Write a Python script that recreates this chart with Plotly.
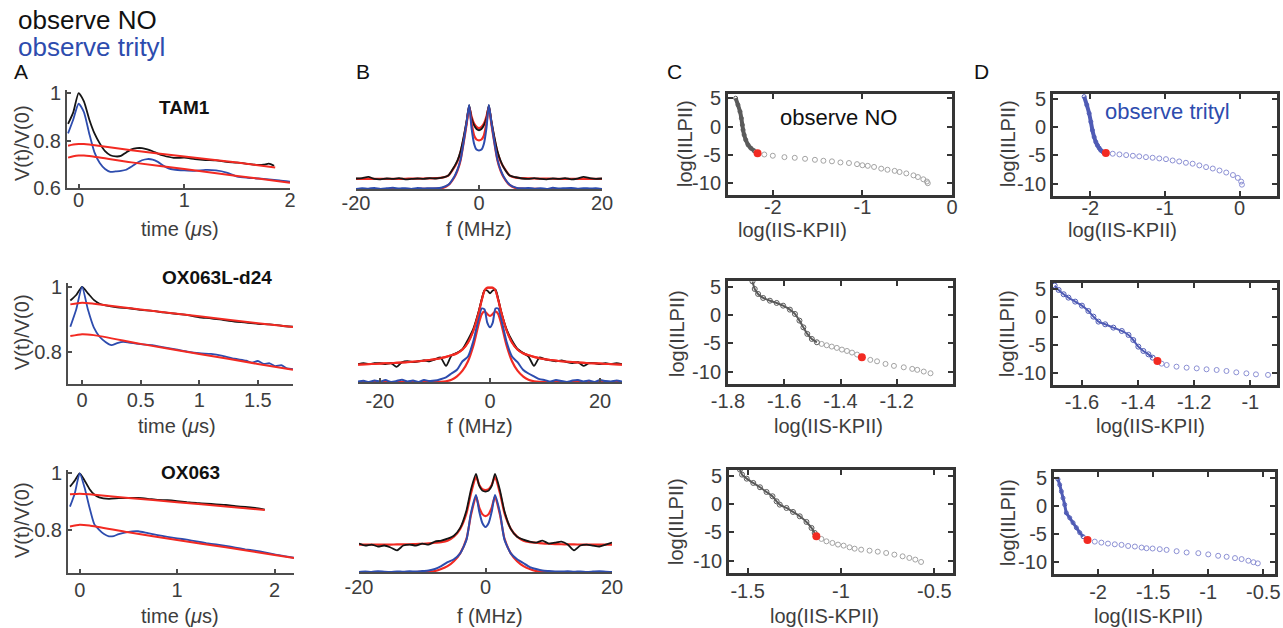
import plotly.graph_objects as go

# ---------------- data ----------------
# Panel A: dipolar time traces (time in us, V(t)/V(0))
tA1_k = [-0.1, -0.05, 0.0, 0.05, 0.1, 0.15, 0.2, 0.25, 0.3, 0.35, 0.4, 0.45, 0.5, 0.55, 0.6, 0.65, 0.7, 0.75, 0.8, 0.9, 1.0, 1.1, 1.2, 1.3, 1.4, 1.5, 1.6, 1.7, 1.75, 1.8, 1.85]
vA1_k = [0.87, 0.92, 1.0, 0.965, 0.89, 0.83, 0.788, 0.755, 0.738, 0.733, 0.735, 0.75, 0.763, 0.768, 0.768, 0.763, 0.755, 0.745, 0.737, 0.727, 0.728, 0.722, 0.718, 0.716, 0.71, 0.707, 0.702, 0.697, 0.698, 0.703, 0.694]
tA1_b = [-0.1, -0.05, 0.0, 0.05, 0.1, 0.15, 0.2, 0.25, 0.3, 0.35, 0.4, 0.45, 0.5, 0.55, 0.6, 0.65, 0.7, 0.75, 0.8, 0.85, 0.9, 1.0, 1.1, 1.2, 1.3, 1.4, 1.5, 1.6, 1.7, 1.8, 1.9, 2.0]
vA1_b = [0.83, 0.89, 0.955, 0.92, 0.83, 0.75, 0.705, 0.68, 0.668, 0.67, 0.672, 0.677, 0.69, 0.705, 0.717, 0.722, 0.72, 0.71, 0.695, 0.683, 0.678, 0.674, 0.672, 0.676, 0.674, 0.665, 0.648, 0.643, 0.64, 0.636, 0.632, 0.627]
tA1_fk = [-0.1, -0.05, 0.0, 0.05, 0.1, 0.5, 1.0, 1.5, 1.86]
vA1_fk = [0.778, 0.783, 0.785, 0.785, 0.783, 0.759, 0.733, 0.707, 0.686]
tA1_fb = [-0.1, -0.05, 0.0, 0.05, 0.1, 0.5, 1.0, 1.5, 2.0]
vA1_fb = [0.728, 0.734, 0.737, 0.737, 0.735, 0.708, 0.68, 0.651, 0.622]

tA2_k = [-0.1, -0.05, 0.0, 0.05, 0.1, 0.15, 0.2, 0.3, 0.4, 0.5, 0.6, 0.7, 0.8, 0.9, 1.0, 1.1, 1.2, 1.3, 1.4, 1.5, 1.6, 1.7, 1.8]
vA2_k = [0.958, 0.975, 1.0, 0.98, 0.96, 0.948, 0.943, 0.937, 0.934, 0.929, 0.926, 0.921, 0.917, 0.913, 0.906, 0.903, 0.898, 0.893, 0.89, 0.886, 0.884, 0.88, 0.877]
tA2_b = [-0.1, -0.05, 0.0, 0.05, 0.1, 0.15, 0.2, 0.25, 0.3, 0.35, 0.4, 0.5, 0.6, 0.7, 0.8, 0.9, 1.0, 1.1, 1.2, 1.3, 1.4, 1.45, 1.5, 1.55, 1.6, 1.65, 1.7, 1.75, 1.8]
vA2_b = [0.877, 0.93, 1.0, 0.93, 0.875, 0.846, 0.83, 0.82, 0.826, 0.83, 0.828, 0.823, 0.82, 0.813, 0.807, 0.8, 0.795, 0.793, 0.787, 0.778, 0.772, 0.766, 0.771, 0.762, 0.764, 0.755, 0.758, 0.748, 0.746]
tA2_fk = [-0.1, 0.0, 0.1, 0.5, 1.0, 1.5, 1.8]
vA2_fk = [0.946, 0.951, 0.948, 0.93, 0.909, 0.888, 0.876]
tA2_fb = [-0.1, 0.0, 0.1, 0.5, 1.0, 1.5, 1.8]
vA2_fb = [0.848, 0.854, 0.851, 0.824, 0.793, 0.762, 0.744]

tA3_k = [-0.1, -0.05, 0.0, 0.05, 0.1, 0.15, 0.2, 0.3, 0.4, 0.5, 0.6, 0.7, 0.8, 0.9, 1.0, 1.1, 1.2, 1.3, 1.4, 1.5, 1.6, 1.7, 1.8, 1.9]
vA3_k = [0.953, 0.975, 1.0, 0.975, 0.945, 0.925, 0.915, 0.91, 0.912, 0.913, 0.913, 0.91, 0.906, 0.905, 0.902, 0.898, 0.895, 0.893, 0.89, 0.888, 0.884, 0.881, 0.878, 0.872]
tA3_b = [-0.1, -0.05, 0.0, 0.05, 0.1, 0.15, 0.2, 0.25, 0.3, 0.35, 0.4, 0.5, 0.6, 0.7, 0.8, 0.9, 1.0, 1.1, 1.2, 1.3, 1.4, 1.5, 1.6, 1.7, 1.8, 1.9, 2.0, 2.1, 2.2]
vA3_b = [0.882, 0.93, 1.0, 0.95, 0.88, 0.82, 0.8, 0.785, 0.777, 0.778, 0.785, 0.793, 0.795, 0.788, 0.781, 0.775, 0.77, 0.765, 0.759, 0.753, 0.748, 0.743, 0.737, 0.731, 0.726, 0.72, 0.713, 0.707, 0.701]
tA3_fk = [-0.1, 0.0, 0.1, 0.5, 1.0, 1.5, 1.9]
vA3_fk = [0.926, 0.928, 0.926, 0.913, 0.898, 0.883, 0.87]
tA3_fb = [-0.1, 0.0, 0.1, 0.5, 1.0, 1.5, 2.0, 2.2]
vA3_fb = [0.812, 0.818, 0.815, 0.791, 0.764, 0.738, 0.711, 0.70]

# Panel B: spectra (f in MHz, normalised amplitude)
fB1 = [-20, -19, -18, -17, -16, -15, -14, -13, -12, -11, -10, -9, -8, -7, -6,
       -5, -4, -3.5, -3, -2.5, -2, -1.6, -1.2, -0.8, -0.4, 0, 0.4, 0.8, 1.2, 1.6, 2, 2.5, 3, 3.5, 4, 5,
       6, 7, 8, 9, 10, 11, 12, 13, 14, 15, 16, 17, 18, 19, 20]
kB1 = [0.125, 0.13, 0.145, 0.12, 0.115, 0.125, 0.12, 0.13, 0.115, 0.12, 0.125, 0.12, 0.13, 0.125, 0.135,
       0.16, 0.27, 0.34, 0.45, 0.62, 0.82, 1.0, 0.84, 0.76, 0.715, 0.70, 0.715, 0.76, 0.84, 1.0, 0.82, 0.62, 0.45, 0.34, 0.26, 0.16,
       0.14, 0.125, 0.12, 0.13, 0.12, 0.115, 0.125, 0.12, 0.13, 0.115, 0.125, 0.145, 0.13, 0.12, 0.125]
fitkB1 = [0.12, 0.12, 0.12, 0.12, 0.12, 0.12, 0.12, 0.121, 0.122, 0.123, 0.124, 0.125, 0.127, 0.13, 0.135,
          0.16, 0.26, 0.33, 0.44, 0.6, 0.8, 0.98, 0.86, 0.78, 0.74, 0.725, 0.74, 0.78, 0.86, 0.98, 0.8, 0.6, 0.44, 0.33, 0.26, 0.16,
          0.135, 0.13, 0.127, 0.125, 0.124, 0.123, 0.122, 0.121, 0.12, 0.12, 0.12, 0.12, 0.12, 0.12, 0.12]
bB1 = [0.0, 0.01, 0.004, 0.012, 0.0, 0.008, 0.015, 0.005, 0.01, 0.0, 0.012, 0.006, 0.01, 0.008, 0.018,
       0.05, 0.15, 0.23, 0.35, 0.56, 0.8, 1.0, 0.72, 0.54, 0.47, 0.46, 0.47, 0.54, 0.72, 1.0, 0.8, 0.56, 0.35, 0.23, 0.15, 0.05,
       0.016, 0.008, 0.012, 0.004, 0.01, 0.0, 0.014, 0.006, 0.01, 0.012, 0.004, 0.01, 0.006, 0.008, 0.0]
fitbB1 = [0.0, 0.0, 0.0, 0.0, 0.0, 0.0, 0.0, 0.0, 0.0, 0.0, 0.0, 0.001, 0.002, 0.005, 0.01,
          0.045, 0.14, 0.22, 0.34, 0.55, 0.78, 0.98, 0.78, 0.64, 0.59, 0.58, 0.59, 0.64, 0.78, 0.98, 0.78, 0.55, 0.34, 0.22, 0.14, 0.045,
          0.01, 0.005, 0.002, 0.001, 0.0, 0.0, 0.0, 0.0, 0.0, 0.0, 0.0, 0.0, 0.0, 0.0, 0.0]

fB2 = [-24, -23, -22, -21, -20, -19, -18, -17, -16, -15, -14, -13, -12, -11, -10, -9, -8, -7,
       -6, -5, -4, -3, -2, -1.5, -1, -0.5, 0, 0.5, 1, 1.5, 2, 3, 4, 5, 6,
       7, 8, 9, 10, 11, 12, 13, 14, 15, 16, 17, 18, 19, 20, 21, 22, 23, 24]
kB2 = [0.19, 0.2, 0.19, 0.2, 0.2, 0.19, 0.2, 0.16, 0.21, 0.22, 0.21, 0.22, 0.23, 0.22, 0.24, 0.26, 0.17, 0.28,
       0.31, 0.35, 0.45, 0.57, 0.76, 0.88, 0.97, 0.97, 0.94, 0.97, 0.98, 0.88, 0.75, 0.56, 0.44, 0.35, 0.31,
       0.27, 0.17, 0.26, 0.24, 0.23, 0.22, 0.23, 0.21, 0.2, 0.21, 0.17, 0.2, 0.2, 0.19, 0.2, 0.19, 0.2, 0.19]
fitkB2 = [0.185, 0.187, 0.19, 0.192, 0.195, 0.198, 0.2, 0.203, 0.207, 0.211, 0.215, 0.22, 0.226, 0.233, 0.242, 0.253, 0.266, 0.283,
          0.305, 0.345, 0.42, 0.55, 0.75, 0.87, 0.97, 1.0, 1.0, 1.0, 0.97, 0.87, 0.75, 0.55, 0.42, 0.345, 0.305,
          0.283, 0.266, 0.253, 0.242, 0.233, 0.226, 0.22, 0.215, 0.211, 0.207, 0.203, 0.2, 0.198, 0.195, 0.192, 0.19, 0.187, 0.185]
bB2 = [0.005, 0.012, 0.0, 0.015, 0.005, 0.02, 0.0, 0.01, 0.025, 0.005, 0.015, 0.0, 0.02, 0.01, 0.015, 0.03, 0.05, 0.09,
       0.13, 0.22, 0.27, 0.44, 0.69, 0.78, 0.77, 0.63, 0.58, 0.63, 0.78, 0.78, 0.68, 0.43, 0.27, 0.21, 0.13,
       0.09, 0.06, 0.03, 0.02, 0.005, 0.02, 0.01, 0.0, 0.015, 0.02, 0.005, 0.015, 0.0, 0.02, 0.01, 0.005, 0.015, 0.005]
fitbB2 = [0.0, 0.0, 0.0, 0.0, 0.0, 0.0, 0.0, 0.0, 0.0, 0.0, 0.0, 0.0, 0.0, 0.0, 0.0, 0.002, 0.008, 0.025,
          0.06, 0.12, 0.22, 0.39, 0.63, 0.72, 0.75, 0.72, 0.70, 0.72, 0.75, 0.72, 0.63, 0.39, 0.22, 0.12, 0.06,
          0.025, 0.008, 0.002, 0.0, 0.0, 0.0, 0.0, 0.0, 0.0, 0.0, 0.0, 0.0, 0.0, 0.0, 0.0, 0.0, 0.0, 0.0]

fB3 = [-20, -19, -18, -17, -16, -15, -14, -13, -12, -11, -10, -9, -8,
       -7, -6, -5, -4, -3, -2.3, -1.5, -1, -0.5, 0, 0.5, 1, 1.5, 2.3, 3, 4, 5, 6, 7,
       8, 9, 10, 11, 12, 13, 14, 15, 16, 17, 18, 19, 20]
kB3 = [0.29, 0.27, 0.28, 0.26, 0.27, 0.25, 0.22, 0.27, 0.28, 0.27, 0.29, 0.28, 0.31,
       0.32, 0.34, 0.37, 0.45, 0.63, 0.84, 1.0, 0.88, 0.83, 0.82, 0.83, 0.88, 1.0, 0.83, 0.62, 0.44, 0.36, 0.33, 0.31,
       0.3, 0.32, 0.29, 0.3, 0.31, 0.28, 0.22, 0.27, 0.28, 0.27, 0.26, 0.28, 0.3]
fitkB3 = [0.28, 0.28, 0.28, 0.28, 0.28, 0.28, 0.281, 0.282, 0.283, 0.285, 0.288, 0.292, 0.298,
          0.305, 0.32, 0.36, 0.44, 0.6, 0.8, 0.97, 0.89, 0.845, 0.835, 0.845, 0.89, 0.97, 0.8, 0.6, 0.44, 0.36, 0.32, 0.305,
          0.298, 0.292, 0.288, 0.285, 0.283, 0.282, 0.281, 0.28, 0.28, 0.28, 0.28, 0.28, 0.28]
bB3 = [0.0, 0.005, 0.0, 0.008, 0.003, 0.0, 0.006, 0.002, 0.008, 0.004, 0.01, 0.015, 0.03,
       0.06, 0.1, 0.13, 0.19, 0.33, 0.6, 0.785, 0.62, 0.5, 0.46, 0.5, 0.62, 0.785, 0.6, 0.33, 0.19, 0.13, 0.09, 0.05,
       0.03, 0.015, 0.01, 0.006, 0.004, 0.008, 0.002, 0.006, 0.0, 0.004, 0.008, 0.003, 0.0]
fitbB3 = [0.0, 0.0, 0.0, 0.0, 0.0, 0.0, 0.0, 0.0, 0.0, 0.0, 0.001, 0.004, 0.01,
          0.03, 0.06, 0.11, 0.19, 0.34, 0.58, 0.77, 0.66, 0.59, 0.57, 0.59, 0.66, 0.77, 0.58, 0.34, 0.19, 0.11, 0.06, 0.03,
          0.01, 0.004, 0.001, 0.0, 0.0, 0.0, 0.0, 0.0, 0.0, 0.0, 0.0, 0.0, 0.0]

# Panels C / D: L-curves  (x = log||S-KP||, y = log||LP||)
xC1_d = [-2.415, -2.389, -2.366, -2.351, -2.34, -2.332, -2.32, -2.302, -2.276, -2.245, -2.207]
yC1_d = [5.05, 3.86, 2.67, 1.48, 0.30, -0.59, -1.48, -2.37, -3.26, -3.85, -4.33]
xC1_s = [-2.095, -2.0, -1.87, -1.755, -1.64, -1.53, -1.435, -1.34, -1.245, -1.15, -1.06, -1.0, -0.94, -0.87, -0.79, -0.72, -0.64, -0.585, -0.51, -0.43, -0.38, -0.32, -0.28, -0.27]
yC1_s = [-4.98, -5.2, -5.45, -5.57, -5.75, -5.93, -6.1, -6.2, -6.4, -6.5, -6.7, -6.9, -7.0, -7.2, -7.5, -7.7, -7.9, -8.1, -8.35, -8.7, -9.0, -9.4, -9.8, -10.1]
cornerC1 = [-2.17, -4.74]

xD1_d = [-2.083, -2.047, -2.016, -1.993, -1.972, -1.949, -1.926, -1.905, -1.882, -1.859, -1.828]
yD1_d = [5.34, 3.86, 2.38, 0.89, -0.59, -1.78, -2.67, -3.26, -3.73, -4.15, -4.45]
xD1_s = [-1.70, -1.61, -1.52, -1.43, -1.345, -1.255, -1.166, -1.077, -0.987, -0.898, -0.81, -0.72, -0.63, -0.54, -0.45, -0.36, -0.27, -0.18, -0.09, -0.025, 0.02, 0.03]
yD1_s = [-4.74, -4.86, -4.98, -5.1, -5.2, -5.34, -5.45, -5.57, -5.7, -5.93, -6.1, -6.34, -6.5, -6.8, -7.1, -7.35, -7.7, -8.06, -8.5, -9.0, -9.66, -10.2]
cornerD1 = [-1.792, -4.62]

xC2_d = [-1.713, -1.705, -1.693, -1.675, -1.651, -1.627, -1.604, -1.58, -1.562, -1.546, -1.532, -1.518, -1.502, -1.484]
yC2_d = [5.93, 4.59, 3.71, 3.0, 2.52, 2.12, 1.64, 0.94, 0.18, -1.0, -2.19, -3.35, -4.24, -4.83]
xC2_s = [-1.467, -1.449, -1.431, -1.413, -1.395, -1.377, -1.359, -1.341, -1.294, -1.27, -1.24, -1.21, -1.175, -1.145, -1.127, -1.104, -1.08]
yC2_s = [-5.12, -5.36, -5.59, -5.82, -6.12, -6.36, -6.65, -7.0, -7.94, -8.19, -8.65, -9.0, -9.25, -9.53, -9.7, -10.0, -10.3]
cornerC2 = [-1.324, -7.48]

xD2_d = [-1.697, -1.683, -1.665, -1.648, -1.624, -1.6, -1.577, -1.559, -1.541, -1.517, -1.488, -1.458, -1.434, -1.417, -1.399, -1.381, -1.363, -1.348]
yD2_d = [5.54, 4.76, 3.99, 3.39, 2.68, 1.96, 1.01, 0.0, -0.89, -1.37, -1.96, -2.56, -3.27, -4.17, -5.36, -6.13, -6.73, -7.32]
xD2_s = [-1.316, -1.298, -1.263, -1.227, -1.191, -1.156, -1.12, -1.085, -1.05, -1.014, -0.98, -0.937]
yD2_s = [-8.39, -8.63, -8.93, -9.11, -9.23, -9.4, -9.52, -9.7, -9.94, -10.12, -10.3, -10.4]
cornerD2 = [-1.331, -7.92]

xC3_d = [-1.541, -1.53, -1.505, -1.47, -1.434, -1.399, -1.367, -1.345, -1.328, -1.292, -1.257, -1.221, -1.185, -1.158, -1.141]
yC3_d = [6.06, 5.18, 4.47, 3.71, 2.95, 2.12, 1.36, 0.47, -0.12, -0.71, -1.41, -2.18, -3.18, -4.24, -5.12]
xC3_s = [-1.105, -1.078, -1.046, -1.016, -0.986, -0.954, -0.927, -0.892, -0.847, -0.803, -0.758, -0.714, -0.67, -0.634, -0.602, -0.571]
yC3_s = [-6.18, -6.6, -6.89, -7.18, -7.36, -7.66, -7.9, -8.07, -8.25, -8.43, -8.66, -8.95, -9.25, -9.54, -9.83, -10.25]
cornerC3 = [-1.132, -5.71]

xD3_d = [-2.364, -2.348, -2.333, -2.318, -2.303, -2.288, -2.257, -2.227, -2.197, -2.166, -2.136]
yD3_d = [4.71, 3.71, 2.53, 1.36, 0.18, -1.29, -2.18, -3.06, -3.94, -4.83, -5.53]
xD3_s = [-2.03, -1.97, -1.91, -1.848, -1.787, -1.727, -1.666, -1.605, -1.56, -1.505, -1.44, -1.378, -1.287, -1.196, -1.09, -1.0, -0.91, -0.833, -0.757, -0.697, -0.636, -0.59, -0.55]
yD3_s = [-6.42, -6.6, -6.77, -6.9, -7.0, -7.2, -7.3, -7.48, -7.6, -7.65, -7.77, -7.9, -8.13, -8.36, -8.48, -8.7, -8.95, -9.13, -9.36, -9.54, -9.83, -10.1, -10.3]
cornerD3 = [-2.096, -6.13]

sample_titles = ["TAM1", "OX063L-d24", "OX063"]

# ---------------- styling ----------------
W, H = 1283, 628
FONT = "Liberation Sans, Arial, Helvetica, sans-serif"
TXT = "#3d3d3d"
KCOL = "#151515"
BCOL = "#2d4cae"
RCOL = "#f22a22"
CDENSE, CSPARSE = "#5a5a5a", "#a3a3a3"
DDENSE, DSPARSE = "#4f5bb5", "#8c90d4"

# panel pixel boxes: (x0, x1, ytop, ybottom); row-wise tick label standoff
panels = {
    1: dict(box=(67, 290, 90, 188), kind="A", xr=[-0.11, 2.0], yr=[0.6, 1.013], xt=[0, 1, 2], yt=[0.6, 0.8, 1.0], so=-7),
    2: dict(box=(356, 602, 90, 189), kind="B", xr=[-20, 20], yr=[0, 1.18], xt=[-20, 0, 20], so=-5),
    3: dict(box=(728, 952, 94, 195), kind="C", xr=[-2.5, 0.0], yr=[-12.2, 5.8], xt=[-2, -1, 0], so=-8),
    4: dict(box=(1053, 1277, 94, 196), kind="C", xr=[-2.5, 0.5], yr=[-12.2, 5.8], xt=[-2, -1, 0], so=-8),
    5: dict(box=(68, 293, 283, 384), kind="A", xr=[-0.12, 1.8], yr=[0.70, 1.012], xt=[0, 0.5, 1, 1.5], yt=[0.8, 1.0], so=-3),
    6: dict(box=(358, 622, 283, 382), kind="B", xr=[-24, 24], yr=[0, 1.05], xt=[-20, 0, 20], so=0),
    7: dict(box=(728, 953, 281, 384), kind="C", xr=[-1.8, -1.0], yr=[-12.2, 6.0], xt=[-1.8, -1.6, -1.4, -1.2], so=-3),
    8: dict(box=(1053, 1277, 283, 385), kind="C", xr=[-1.703, -0.905], yr=[-12.2, 6.0], xt=[-1.6, -1.4, -1.2, -1], so=-3),
    9: dict(box=(68, 294, 470, 573), kind="A", xr=[-0.12, 2.2], yr=[0.647, 1.012], xt=[0, 1, 2], yt=[0.8, 1.0], so=-2),
    10: dict(box=(359, 612, 470, 572), kind="B", xr=[-20, 20], yr=[0, 1.04], xt=[-20, 0, 20], so=-4),
    11: dict(box=(729, 953, 470, 573), kind="C", xr=[-1.6, -0.4], yr=[-12.2, 6.0], xt=[-1.5, -1, -0.5], so=-2),
    12: dict(box=(1054, 1275, 472, 574), kind="C", xr=[-2.4, -0.394], yr=[-12.2, 6.0], xt=[-2, -1.5, -1, -0.5], so=-2),
}
LC_YTICKS = [-10, -5, 0, 5]


def lab(v):
    return f"{v:g}"  # ASCII hyphen for negatives, as in the original figure


fig = go.Figure()


def ax(i):
    return ("x" if i == 1 else f"x{i}"), ("y" if i == 1 else f"y{i}")


def line(i, x, y, color, width=1.8, shape="spline"):
    xa, ya = ax(i)
    fig.add_trace(go.Scatter(x=x, y=y, mode="lines", xaxis=xa, yaxis=ya,
                             line=dict(color=color, width=width, shape=shape, smoothing=0.6),
                             showlegend=False, hoverinfo="skip"))


def lcurve(i, xd, yd, xs, ys, corner, dense_col, sparse_col, thick, msize):
    xa, ya = ax(i)
    fig.add_trace(go.Scatter(x=xs, y=ys, mode="markers", xaxis=xa, yaxis=ya,
                             marker=dict(symbol="circle-open", size=5, color=sparse_col, line=dict(width=1)),
                             showlegend=False, hoverinfo="skip"))
    fig.add_trace(go.Scatter(x=xd, y=yd, mode="lines+markers", xaxis=xa, yaxis=ya,
                             line=dict(color=dense_col, width=thick, shape="spline", smoothing=0.5),
                             marker=dict(symbol="circle-open", size=msize, color=dense_col, line=dict(width=1)),
                             showlegend=False, hoverinfo="skip"))
    fig.add_trace(go.Scatter(x=[corner[0]], y=[corner[1]], mode="markers", xaxis=xa, yaxis=ya,
                             marker=dict(symbol="circle", size=8, color=RCOL),
                             showlegend=False, hoverinfo="skip"))


# Panel A
for i, (tk, vk, tb, vb, tfk, vfk, tfb, vfb) in {
    1: (tA1_k, vA1_k, tA1_b, vA1_b, tA1_fk, vA1_fk, tA1_fb, vA1_fb),
    5: (tA2_k, vA2_k, tA2_b, vA2_b, tA2_fk, vA2_fk, tA2_fb, vA2_fb),
    9: (tA3_k, vA3_k, tA3_b, vA3_b, tA3_fk, vA3_fk, tA3_fb, vA3_fb),
}.items():
    line(i, tk, vk, KCOL)
    line(i, tb, vb, BCOL)
    line(i, tfk, vfk, RCOL, 2.0)
    line(i, tfb, vfb, RCOL, 2.0)

# Panel B
for i, (f, k, fk, b, fb) in {
    2: (fB1, kB1, fitkB1, bB1, fitbB1),
    6: (fB2, kB2, fitkB2, bB2, fitbB2),
    10: (fB3, kB3, fitkB3, bB3, fitbB3),
}.items():
    line(i, f, fk, RCOL, 2.2)
    line(i, f, k, KCOL, 1.8)
    line(i, f, fb, RCOL, 2.2)
    line(i, f, b, BCOL, 2.0)
    if i == 6:
        line(i, f, fk, RCOL, 2.0)

# Panels C, D
lcurve(3, xC1_d, yC1_d, xC1_s, yC1_s, cornerC1, CDENSE, CSPARSE, 4, 4)
lcurve(4, xD1_d, yD1_d, xD1_s, yD1_s, cornerD1, DDENSE, DSPARSE, 4, 4)
lcurve(7, xC2_d, yC2_d, xC2_s, yC2_s, cornerC2, CDENSE, CSPARSE, 2, 5)
lcurve(8, xD2_d, yD2_d, xD2_s, yD2_s, cornerD2, DDENSE, DSPARSE, 2, 5)
lcurve(11, xC3_d, yC3_d, xC3_s, yC3_s, cornerC3, CDENSE, CSPARSE, 2, 5)
lcurve(12, xD3_d, yD3_d, xD3_s, yD3_s, cornerD3, DDENSE, DSPARSE, 3, 4)

layout = dict(width=W, height=H, margin=dict(l=0, r=0, t=0, b=0, autoexpand=False),
              paper_bgcolor="white", plot_bgcolor="white", showlegend=False,
              font=dict(family=FONT, color=TXT, size=20))

tickfont = dict(family=FONT, size=20, color=TXT)
for i, p in panels.items():
    x0, x1, yt, yb = p["box"]
    xk = "xaxis" if i == 1 else f"xaxis{i}"
    yk = "yaxis" if i == 1 else f"yaxis{i}"
    xa, ya = ax(i)
    dom_x = [x0 / W, x1 / W]
    dom_y = [1 - yb / H, 1 - yt / H]
    base = dict(showgrid=False, zeroline=False, tickfont=tickfont, ticks="inside",
                automargin=False, ticklabeloverflow="allow")
    if p["kind"] in ("A", "B"):
        style = dict(showline=True, linecolor="#4d4d4d", linewidth=2, ticklen=4, tickwidth=1.5, tickcolor="#4d4d4d")
    else:
        style = dict(showline=True, mirror="ticks", linecolor="#353535", linewidth=3, ticklen=5, tickwidth=2, tickcolor="#353535")
    layout[xk] = dict(domain=dom_x, range=p["xr"], anchor=ya, tickvals=p["xt"],
                      ticktext=[lab(v) for v in p["xt"]], ticklabelstandoff=p["so"], **base, **style)
    if p["kind"] == "A":
        layout[yk] = dict(domain=dom_y, range=p["yr"], anchor=xa, tickvals=p["yt"],
                          ticktext=[lab(v) for v in p["yt"]], **base, **style)
    elif p["kind"] == "B":
        layout[yk] = dict(domain=dom_y, range=p["yr"], anchor=xa, visible=False, showgrid=False, zeroline=False, automargin=False)
    else:
        layout[yk] = dict(domain=dom_y, range=p["yr"], anchor=xa, tickvals=LC_YTICKS,
                          ticktext=[lab(v) for v in LC_YTICKS], **base, **style)

ann = []


def text(x, y, s, size=20, color=TXT, angle=0, xanchor="center"):
    ann.append(dict(x=x / W, y=1 - y / H, xref="paper", yref="paper", text=s, showarrow=False,
                    font=dict(family=FONT, size=size, color=color), textangle=angle,
                    xanchor=xanchor, yanchor="middle"))


text(16, 20, "observe NO", 26, "#111111", xanchor="left")
text(16, 47, "observe trityl", 26, BCOL, xanchor="left")
for s, x in [("A", 21), ("B", 363), ("C", 674), ("D", 981)]:
    text(x, 72, s, 21, "#111111")
for s, (x, y) in zip(sample_titles, [(184, 107), (217, 277), (190, 472)]):
    text(x, y, f"<b>{s}</b>", 19, "#111111")
text(838, 117, "observe NO", 22, "#111111")
text(1103, 112, "observe trityl", 22, BCOL, xanchor="left")

for y in [143, 332, 520]:
    text(22, y, "V(t)/V(0)", 20, TXT, -90)
for x, y in [(180, 229), (177, 426), (180, 616)]:
    text(x, y, "time (<i>μ</i>s)", 20, TXT)
for x, y in [(479, 229), (480, 426), (490, 616)]:
    text(x, y, "f (MHz)", 20, TXT)
for x, y in [(792, 230), (828, 426), (824, 616), (1122, 230), (1150, 426), (1148, 616)]:
    text(x, y, "log(IIS-KPII)", 20, TXT)
for x, y in [(685, 144), (677, 334), (676, 522), (1008, 144), (1007, 334), (1008, 523)]:
    text(x, y, "log(IILPII)", 20, TXT, -90)

layout["annotations"] = ann
fig.update_layout(**layout)
fig.write_html("out.html", config={"displayModeBar": False},
               post_script="document.body.style.margin='0';document.body.style.overflow='hidden';")
